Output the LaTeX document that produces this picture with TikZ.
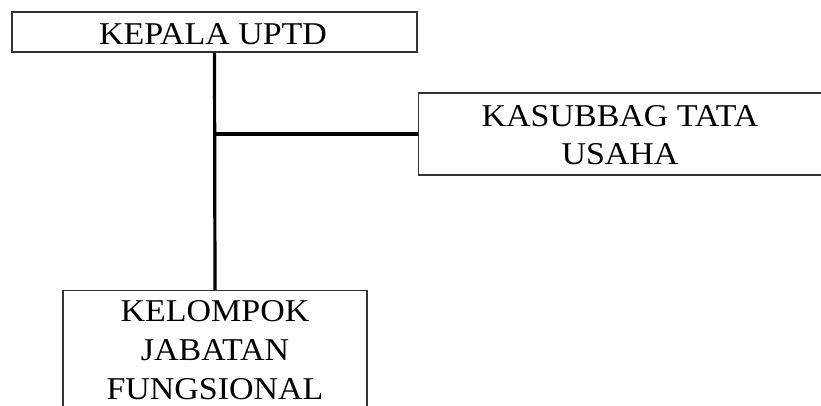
\documentclass[tikz,border=0pt]{standalone}
\usepackage{fontspec}
\setmainfont{Liberation Serif}[FakeStretch=1.07]
\begin{document}
\begin{tikzpicture}[x=0.75pt,y=-0.75pt,
  box/.style={draw=black!80, line width=1.1pt, inner sep=0pt},
  txt/.style={align=center, inner sep=0pt, font=\fontsize{23.8}{29}\selectfont},
  link/.style={draw=black, line width=2.4pt}]
\useasboundingbox (0,0) rectangle (821,405);
\clip (0,0) rectangle (821,405);
\fill[white] (0,0) rectangle (821,405);
% boxes
\node[box, minimum width=303.75pt, minimum height=30pt] (kepala) at (214.5,32) {};
\node[box, minimum width=303.75pt, minimum height=61.5pt, anchor=west] (kasub) at (417.5,134) {};
\node[box, minimum width=228pt, minimum height=112.5pt, anchor=north] (kel) at (215,290) {};
% texts
\node[txt] (kepalaT) at (213,34) {KEPALA UPTD};
\node[txt] (kasubT) at (620,135) {KASUBBAG TATA\\USAHA};
\node[txt] (kelT) at (215,350) {KELOMPOK\\JABATAN\\FUNGSIONAL};
% connectors
\coordinate (junc) at (kasub.west -| kepala.south);
\draw[link] (kepala.south) -- (kel.north);
\draw[link] (junc) -- (kasub.west);
\end{tikzpicture}
\end{document}
